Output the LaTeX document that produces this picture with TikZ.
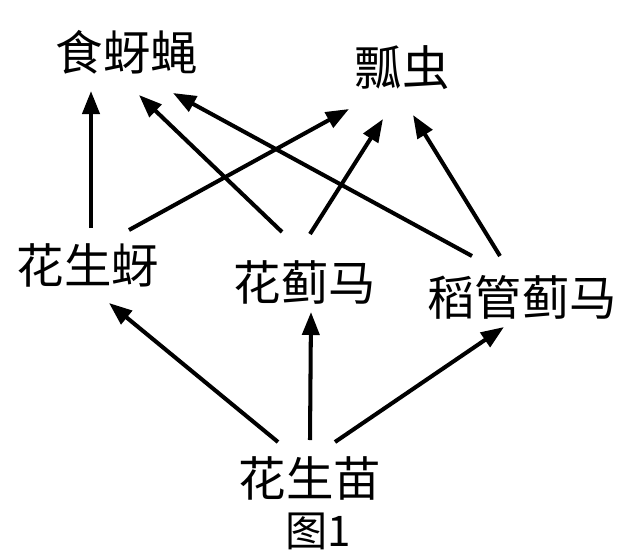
\documentclass[tikz,border=0pt]{standalone}
\usepackage{fontspec}
\setmainfont{Noto Sans CJK SC}
\usetikzlibrary{arrows.meta}

\tikzset{
  species/.style={inner sep=0pt,font=\fontsize{27}{30}\selectfont},
  arr/.style={line width=2.3pt,-{Triangle[length=0.46cm,width=0.34cm]}}
}

\begin{document}
\begin{tikzpicture}[x=0.02cm,y=-0.02cm]
\useasboundingbox (0,0) rectangle (622,555);

%各个物种
\node[species] (syy) at (127,52) {食蚜蝇};
\node[species] (pc) at (402,68) {瓢虫};
\node[species] (hsy) at (88,265) {花生蚜};
\node[species] (hjm) at (305,282) {花蓟马};
\node[species] (dgjm) at (522,297) {稻管蓟马};
\node[species] (hsm) at (310,478) {花生苗};
\node[inner sep=0pt,font=\fontsize{24}{26}\selectfont] (tu) at (318,531) {图1};

%花生苗被取食
\draw[arr] ([shift={(-32,-36)}]hsm.center) -- ([shift={(21,38)}]hsy.center);
\draw[arr] ([shift={(0,-38)}]hsm.center) -- ([shift={(6,30)}]hjm.center);
\draw[arr] ([shift={(25,-36)}]hsm.center) -- ([shift={(-18,30)}]dgjm.center);

%到食蚜蝇
\draw[arr] ([shift={(3,-37)}]hsy.center) -- ([shift={(-36,39)}]syy.center);
\draw[arr] ([shift={(-23,-50)}]hjm.center) -- ([shift={(12,43)}]syy.center);
\draw[arr] ([shift={(-50,-41)}]dgjm.center) -- ([shift={(46,41)}]syy.center);

%到瓢虫
\draw[arr] ([shift={(41,-35)}]hsy.center) -- ([shift={(-53,41)}]pc.center);
\draw[arr] ([shift={(5,-48)}]hjm.center) -- ([shift={(-19,51)}]pc.center);
\draw[arr] ([shift={(-22,-41)}]dgjm.center) -- ([shift={(11,47)}]pc.center);

\end{tikzpicture}
\end{document}
